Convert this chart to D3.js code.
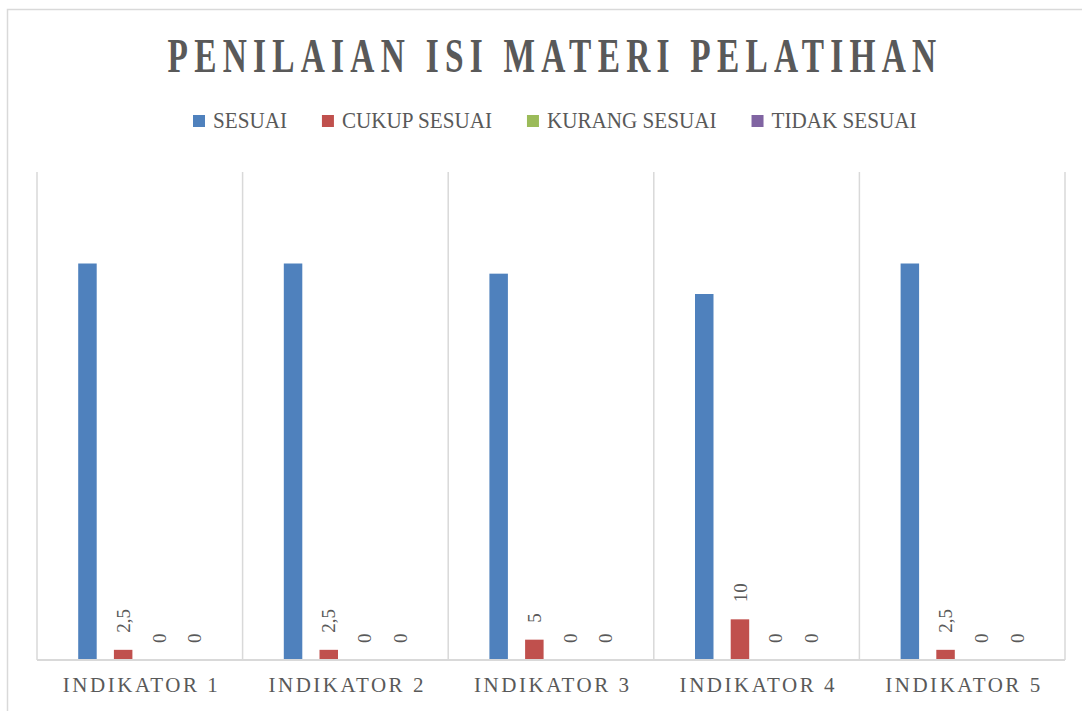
<!DOCTYPE html>
<html>
<head>
<meta charset="utf-8">
<script src="https://cdn.jsdelivr.net/npm/d3@7"></script>
<style>
  body { margin: 0; background: #ffffff; }
  svg { display: block; }
  text { font-family: "Liberation Serif", "DejaVu Serif", serif; fill: #595959; }
</style>
</head>
<body>
<svg width="1082" height="711"></svg>
<script>
let categories = ["INDIKATOR 1", "INDIKATOR 2", "INDIKATOR 3", "INDIKATOR 4", "INDIKATOR 5"];
let seriesNames = ["SESUAI", "CUKUP SESUAI", "KURANG SESUAI", "TIDAK SESUAI"];
let sesuai = [97.5, 97.5, 95, 90, 97.5];
let cukupSesuai = [2.5, 2.5, 5, 10, 2.5];
let kurangSesuai = [0, 0, 0, 0, 0];
let tidakSesuai = [0, 0, 0, 0, 0];
let colors = ["#4f81bd", "#c0504d", "#9bbb59", "#8064a2"];
let yTicks = [0, 120];

let seriesValues = [sesuai, cukupSesuai, kurangSesuai, tidakSesuai];
// only these series carry a data label in the original
let labelled = [false, true, true, true];

var svg = d3.select("svg");
var plot = { left: 37, right: 1065, top: 172, bottom: 660 };

// outer chart border (only top and left sides are inside the picture)
svg.append("rect")
    .attr("x", 7.5)
    .attr("y", 9.5)
    .attr("width", 1200)
    .attr("height", 900)
    .attr("fill", "none")
    .attr("stroke", "#d9d9d9")
    .attr("stroke-width", 1.5);

// title: condensed glyphs, wide spacing (squeezed with a scale transform)
let title = svg.append("text")
    .attr("x", 0)
    .attr("y", 0)
    .attr("text-anchor", "middle")
    .style("font-size", "48px")
    .style("font-weight", "bold")
    .style("letter-spacing", "9px")
    .text("PENILAIAN ISI MATERI PELATIHAN");
let titleLen = title.node().getComputedTextLength();
title.attr("transform", "translate(555,72) scale(" + (775 / titleLen) + ",1)");

// legend
let legend = svg.append("g").attr("class", "legend");
let lx = 193;
seriesNames.forEach(function (name, i) {
    legend.append("rect")
        .attr("x", lx)
        .attr("y", 115)
        .attr("width", 12)
        .attr("height", 12)
        .attr("fill", colors[i]);
    let t = legend.append("text")
        .attr("x", lx + 20)
        .attr("y", 128)
        .style("font-size", "24px")
        .text(name);
    let w = t.node().getComputedTextLength() * 0.88;
    t.attr("textLength", w).attr("lengthAdjust", "spacingAndGlyphs");
    lx = lx + 20 + w + 35;
});

// scales
let x0 = d3.scaleBand()
    .domain(categories)
    .range([plot.left, plot.right])
    .padding(0);

let x1 = d3.scaleBand()
    .domain(seriesNames)
    .range([24, 184])
    .padding(0.482);

let y = d3.scaleLinear()
    .domain([yTicks[0], yTicks[1]])
    .range([plot.bottom, plot.top]);

// vertical gridlines between categories
let bounds = categories.map(c => x0(c)).concat([plot.right]);
svg.append("g")
    .selectAll("line")
    .data(bounds)
    .enter().append("line")
    .attr("x1", d => d)
    .attr("x2", d => d)
    .attr("y1", y(yTicks[1]))
    .attr("y2", y(0))
    .attr("stroke", "#d9d9d9")
    .attr("stroke-width", 1.5);

// bars
let groups = svg.append("g")
    .selectAll(".group")
    .data(categories)
    .enter().append("g")
    .attr("class", "group")
    .attr("transform", d => "translate(" + x0(d) + ",0)");

groups.selectAll(".bar")
    .data((d, ci) => seriesNames.map((s, si) => ({ series: s, si: si, value: seriesValues[si][ci] })))
    .enter().append("rect")
    .attr("class", "bar")
    .attr("x", d => x1(d.series))
    .attr("y", d => y(d.value))
    .attr("width", x1.bandwidth())
    .attr("height", d => y(0) - y(d.value))
    .attr("fill", d => colors[d.si]);

// data labels, rotated
groups.selectAll(".label")
    .data((d, ci) => seriesNames.map((s, si) => ({ series: s, si: si, value: seriesValues[si][ci] }))
        .filter(d => labelled[d.si]))
    .enter().append("text")
    .attr("class", "label")
    .attr("transform", d => "translate(" + (x1(d.series) + x1.bandwidth() / 2) + "," + (y(d.value) - 17) + ") rotate(-90)")
    .attr("dy", "0.35em")
    .style("font-size", "19px")
    .text(d => String(d.value).replace(".", ","));

// x axis baseline
let xAxis = d3.axisBottom(x0).tickSize(0).tickPadding(0);
let xg = svg.append("g")
    .attr("transform", "translate(0," + y(0) + ")")
    .call(xAxis);
xg.select(".domain")
    .attr("d", "M" + plot.left + ",0H" + plot.right)
    .attr("stroke", "#d9d9d9")
    .attr("stroke-width", 2);
xg.selectAll(".tick text")
    .attr("y", 32)
    .attr("dy", 0)
    .attr("x", -77)
    .attr("text-anchor", "start")
    .attr("textLength", 155)
    .attr("lengthAdjust", "spacing")
    .style("font-family", "'Liberation Serif', serif")
    .style("font-size", "21px")
    .style("fill", "#595959");
</script>
</body>
</html>
